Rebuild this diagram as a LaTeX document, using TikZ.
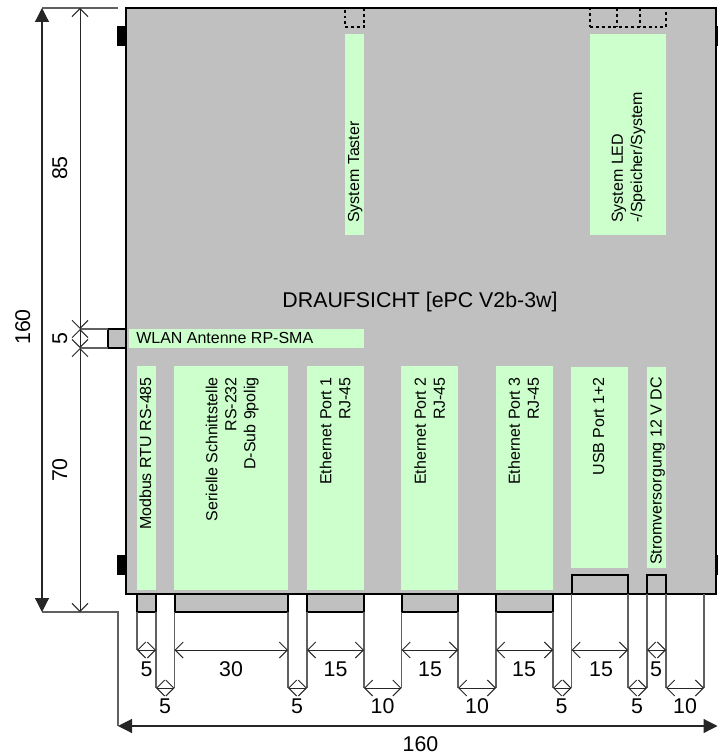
\documentclass[tikz,border=0pt]{standalone}
\usepackage{fontspec}
\setmainfont{Liberation Sans}
\usetikzlibrary{arrows.meta}
\definecolor{bodygray}{HTML}{C0C0C0}
\definecolor{labelgreen}{HTML}{CCFFCC}
\definecolor{extgray}{HTML}{606060}
\newcommand{\rectnode}[6]{\node[#2,minimum width={(#5-#3)*0.75pt},minimum height={(#6-#4)*0.75pt}] (#1) at ({(#3+#5)/2},{(#4+#6)/2}) {};}
\tikzset{
  x=0.75pt,y=-0.75pt,
  housing/.style={draw=black,fill=bodygray,line width=1.5pt,inner sep=0pt,outer sep=0pt},
  tab/.style={fill=black,inner sep=0pt,outer sep=0pt},
  greenbox/.style={fill=labelgreen,inner sep=0pt,outer sep=0pt},
  dotbox/.style={draw=black,line width=1.5pt,dash pattern=on 2.2pt off 2.2pt,inner sep=0pt,outer sep=0pt},
  ext/.style={draw=extgray,line width=0.8pt},
  dim/.style={draw=black!85,line width=0.75pt,{Straight Barb[length=6pt,width=12pt]}-{Straight Barb[length=6pt,width=12pt]}},
  bigdim/.style={draw=black!85,line width=0.9pt,{Triangle[length=10.5pt,width=10.5pt]}-{Triangle[length=10.5pt,width=10.5pt]}},
  dimtext/.style={font=\fontsize{16}{19}\selectfont,anchor=base,inner sep=0pt},
  vdimtext/.style={dimtext,rotate=90},
  lab/.style={font=\fontsize{12}{14.3}\selectfont,inner sep=0pt},
  vlabR/.style={lab,rotate=90,anchor=north east,align=right},
  vlabL/.style={lab,rotate=90,anchor=north west,align=left},
}
\begin{document}
\begin{tikzpicture}
\useasboundingbox (0,0) rectangle (718,755);
% tabs
\rectnode{tabTL}{tab}{117}{26}{126}{46}
\rectnode{tabBL}{tab}{117}{555}{126}{575}
\rectnode{tabTR}{tab}{715}{26}{718}{46}
\rectnode{tabBR}{tab}{715}{555}{718}{575}
% connector bodies outside the housing
\rectnode{antenna}{housing}{108}{329}{126}{348}
\rectnode{c1}{housing}{137}{594}{156}{612}
\rectnode{c2}{housing}{174.5}{594}{288}{612}
\rectnode{c3}{housing}{307}{594}{364}{612}
\rectnode{c4}{housing}{401.5}{594}{458}{612}
\rectnode{c5}{housing}{496}{594}{553}{612}
% housing
\rectnode{main}{housing}{126}{8}{715.5}{594}
% dotted parts
\rectnode{dotA}{dotbox}{345}{8}{364}{27}
\rectnode{dotB}{dotbox}{590}{8}{666}{27}
\coordinate (dotS1t) at (617,8);
\coordinate (dotS1b) at (617,27);
\coordinate (dotS2t) at (640,8);
\coordinate (dotS2b) at (640,27);
\draw[dotbox] (dotS1t) -- (dotS1b);
\draw[dotbox] (dotS2t) -- (dotS2b);
% inner connectors
\rectnode{usbc}{housing}{571.5}{575}{628}{594}
\rectnode{pwrc}{housing}{647}{575}{666}{594}
% green fields
\rectnode{gTaster}{greenbox}{345}{34}{364}{235}
\rectnode{gLed}{greenbox}{590}{34}{666}{235}
\rectnode{gWlan}{greenbox}{129}{329}{364}{348}
\rectnode{gMod}{greenbox}{137}{366}{156}{590}
\rectnode{gSer}{greenbox}{174}{366}{288}{590}
\rectnode{gE1}{greenbox}{307}{366}{364}{590}
\rectnode{gE2}{greenbox}{401}{366}{458}{590}
\rectnode{gE3}{greenbox}{496}{366}{553}{590}
\rectnode{gUsb}{greenbox}{571}{367}{628}{568}
\rectnode{gPwr}{greenbox}{647}{367}{666}{568}
% labels
\node[font=\fontsize{16}{19}\selectfont,anchor=base,inner sep=0pt] (title) at (420,307) {DRAUFSICHT [ePC V2b-3w]};
\node[lab,anchor=base west] (tWlan) at (136,343) {WLAN Antenne RP-SMA};
\node[lab,rotate=90,anchor=base east] (tMod) at (151,377) {Modbus RTU RS-485};
\node[vlabR] (tSer) at (205.5,377) {Serielle Schnittstelle\\RS-232\\D-Sub 9polig};
\node[vlabR] (tE1) at (319.5,377) {Ethernet Port 1\\RJ-45};
\node[vlabR] (tE2) at (414,377) {Ethernet Port 2\\RJ-45};
\node[vlabR] (tE3) at (508,377) {Ethernet Port 3\\RJ-45};
\node[lab,rotate=90,anchor=base east] (tUsb) at (604,377) {USB Port 1+2};
\node[lab,rotate=90,anchor=base east] (tPwr) at (661.5,377) {Stromversorgung 12 V DC};
\node[lab,rotate=90,anchor=base west] (tTaster) at (359,223) {System Taster};
\node[vlabL] (tLed) at (611.5,223) {System LED\\-/Speicher/System};
% vertical dimensions
\coordinate (lt) at (42,8);
\coordinate (lb) at (42,612);
\coordinate (mt) at (80,8);
\coordinate (mu) at (80,329);
\coordinate (ml) at (80,348);
\coordinate (mb) at (80,612);
\coordinate (ct) at (118,8);
\coordinate (cb) at (118,612);
\coordinate (cd) at (118,726);
\coordinate (cr) at (717.5,726);
\draw[ext] (lt) -- (ct);
\draw[ext] (lb) -- (cb) -- (cd);
\draw[ext] (mu) -- (antenna.north west);
\draw[ext] (ml) -- (antenna.south west);
\draw[bigdim] (lt) -- (lb);
\draw[bigdim] (cd) -- (cr);
\draw[dim] (mt) -- (mu);
\draw[dim] (mu) -- (ml);
\draw[dim] (ml) -- (mb);
\node[vdimtext] (d160v) at (30,327) {160};
\node[vdimtext] (d85) at (67,168) {85};
\node[vdimtext] (d5v) at (67,339) {5};
\node[vdimtext] (d70) at (67,470) {70};
% bottom extension lines: name / x / start y / end y
\foreach \n/\x/\ya/\yb in {
  a/137/612/650, b/156/612/688, c/174.5/612/688, d/288/612/688,
  e/307/612/688, f/364/612/688, g/401.5/612/688, h/458/612/688,
  i/496/612/688, j/553/612/688, k/571.5/594/688, l/628/594/688,
  m/647/594/688, n/666/594/688, o/704/594/688}{
  \coordinate (s\n) at (\x,\ya);
  \coordinate (u\n) at (\x,650);
  \coordinate (w\n) at (\x,688);
  \coordinate (e\n) at (\x,\yb);
  \draw[ext] (s\n) -- (e\n);
}
% upper row of dimensions
\draw[dim] (ua) -- (ub);
\draw[dim] (uc) -- (ud);
\draw[dim] (ue) -- (uf);
\draw[dim] (ug) -- (uh);
\draw[dim] (ui) -- (uj);
\draw[dim] (uk) -- (ul);
\draw[dim] (um) -- (un);
% lower row of dimensions
\draw[dim] (wb) -- (wc);
\draw[dim] (wd) -- (we);
\draw[dim] (wf) -- (wg);
\draw[dim] (wh) -- (wi);
\draw[dim] (wj) -- (wk);
\draw[dim] (wl) -- (wm);
\draw[dim] (wn) -- (wo);
% dimension texts
\node[dimtext] (r1a) at (146.5,676) {5};
\node[dimtext] (r1b) at (231,676) {30};
\node[dimtext] (r1c) at (335.5,676) {15};
\node[dimtext] (r1d) at (430,676) {15};
\node[dimtext] (r1e) at (524,676) {15};
\node[dimtext] (r1f) at (601,676) {15};
\node[dimtext] (r1g) at (656,676) {5};
\node[dimtext] (r2a) at (165,713) {5};
\node[dimtext] (r2b) at (297,713) {5};
\node[dimtext] (r2c) at (382.5,713) {10};
\node[dimtext] (r2d) at (477,713) {10};
\node[dimtext] (r2e) at (561.5,713) {5};
\node[dimtext] (r2f) at (637,713) {5};
\node[dimtext] (r2g) at (685,713) {10};
\node[dimtext] (d160h) at (420.5,751) {160};
\end{tikzpicture}
\end{document}
